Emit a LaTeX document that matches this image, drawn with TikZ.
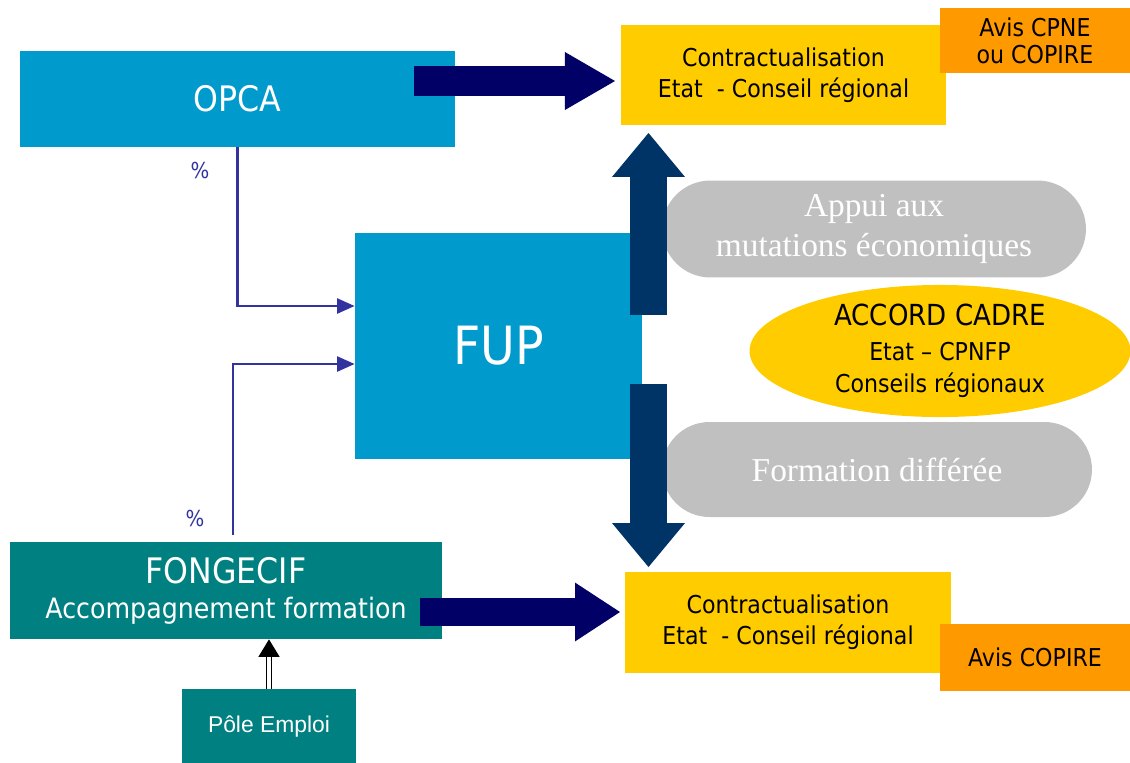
\documentclass[tikz,border=0pt]{standalone}
\usepackage{fontspec}
\usetikzlibrary{arrows.meta,shapes.misc,shapes.geometric}
\newfontfamily\tahoma{DejaVu Sans}[FakeStretch=0.9]
\newfontfamily\arialf{Liberation Sans}
\newfontfamily\timesf{Liberation Serif}
\definecolor{bleu}{HTML}{009ACD}
\definecolor{vert}{HTML}{008080}
\definecolor{jaune}{HTML}{FFCC00}
\definecolor{orangec}{HTML}{FF9900}
\definecolor{gris}{HTML}{C0C0C0}
\definecolor{marine}{HTML}{000066}
\definecolor{nuit}{HTML}{003366}
\definecolor{violetc}{HTML}{3333A0}

\begin{document}
\begin{tikzpicture}[x=0.02cm,y=-0.02cm,
  box/.style={rectangle,inner sep=0pt,align=center},
  pill/.style={rounded rectangle,fill=gris,text=white,inner sep=0pt,align=center,
    font=\timesf\fontsize{19}{22.5}\selectfont},
  contrat/.style={box,fill=jaune,minimum width=6.52cm,minimum height=2.02cm,
    font=\tahoma\fontsize{14}{17.6}\selectfont},
  avis/.style={box,fill=orangec,minimum width=3.8cm,
    font=\tahoma\fontsize{14}{15.4}\selectfont},
  flux/.style={violetc,line width=1.4pt,-{Triangle[length=10pt,width=8.5pt]}},
  fat/.style={line width=#1}]
  \useasboundingbox (0,0) rectangle (1130,762);

  \node[box,fill=bleu,text=white,minimum width=8.7cm,minimum height=1.92cm,
    font=\tahoma\fontsize{20}{24}\selectfont] (opca) at (237.5,99) {OPCA};
  \node[box,fill=bleu,text=white,minimum width=5.74cm,minimum height=4.52cm,
    font=\tahoma\fontsize{30}{36}\selectfont] (fup) at (498.5,346) {FUP};
  \node[box,fill=vert,text=white,minimum width=8.64cm,minimum height=1.94cm,
    font=\tahoma\fontsize{16}{19.5}\selectfont] (fongecif) at (226,590.5)
    {{\fontsize{20}{24}\selectfont FONGECIF}\\[0.5pt]Accompagnement formation};
  \node[box,fill=vert,text=white,minimum width=3.48cm,minimum height=1.5cm,
    font=\arialf\fontsize{13}{15}\selectfont] (pole) at (269,726.5) {Pôle Emploi};

  \node[pill,minimum width=8.48cm,minimum height=1.94cm] (appui) at (874,229)
    {Appui aux\\mutations économiques};
  \node[pill,minimum width=8.6cm,minimum height=1.9cm] (differee) at (877,469.5)
    {Formation différée};
  \node[ellipse,fill=jaune,inner sep=0pt,minimum width=7.62cm,minimum height=2.36cm,
    align=center,font=\tahoma\fontsize{14}{18}\selectfont] (accord) at (940,351)
    {{\fontsize{16.5}{18.8}\selectfont ACCORD CADRE}\\[2pt]Etat – CPNFP\\Conseils régionaux};

  \node[contrat] (ctop) at (783.5,75) {Contractualisation\\Etat\ \ - Conseil régional};
  \node[contrat] (cbot) at (788,622.5) {Contractualisation\\Etat\ \ - Conseil régional};
  \node[avis,minimum height=1.3cm] (avistop) at (1035,40.5) {Avis CPNE\\ou COPIRE};
  \node[avis,minimum height=1.34cm] (avisbot) at (1035,657.5) {Avis COPIRE};

  \coordinate (t1) at (414,81);
  \coordinate (t2) at (615,81);
  \coordinate (b1) at (420,612);
  \coordinate (b2) at (620,612);
  \coordinate (u1) at (648.5,315);
  \coordinate (u2) at (648.5,133);
  \coordinate (d1) at (648.5,384);
  \coordinate (d2) at (648.5,567);
  \draw[marine,fat=17pt,-{Triangle[length=28.5pt,width=33pt,line width=0pt]}] (t1) -- (t2);
  \draw[marine,fat=16pt,-{Triangle[length=25.6pt,width=33.5pt,line width=0pt]}] (b1) -- (b2);
  \draw[nuit,fat=21pt,-{Triangle[length=25pt,width=41.5pt,line width=0pt]}] (u1) -- (u2);
  \draw[nuit,fat=21pt,-{Triangle[length=25pt,width=41.5pt,line width=0pt]}] (d1) -- (d2);

  \coordinate (in1) at (fup.west |- 0,306);
  \coordinate (in2) at (fup.west |- 0,364);
  \coordinate (f1) at (233,535);
  \draw[flux] (opca.south) |- (in1);
  \draw[flux] (f1) |- (in2);
  \node[violetc,font=\tahoma\fontsize{12.5}{14}\selectfont] (pc1) at (200,170) {\%};
  \node[violetc,font=\tahoma\fontsize{12.5}{14}\selectfont] (pc2) at (195,518) {\%};

  \draw[double,line width=0.7pt,double distance=1.8pt,
    -{Triangle[length=10pt,width=12pt]}] (pole.north) -- (pole.north |- fongecif.south);
\end{tikzpicture}
\end{document}
